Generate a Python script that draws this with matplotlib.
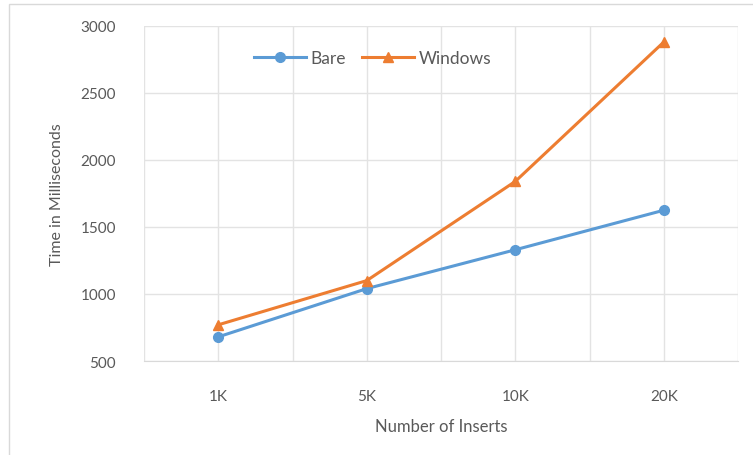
import numpy as np
import matplotlib.pyplot as plt
from matplotlib.patches import Rectangle

plt.rcParams['font.family'] = ['Lato', 'DejaVu Sans']

# data
categories = ['1K', '5K', '10K', '20K']
bare = [680, 1040, 1330, 1625]
windows = [770, 1100, 1840, 2880]

y_ticks = [500, 1000, 1500, 2000, 2500, 3000]

text_col = '#595959'
grid_col = '#E3E3E3'

fig = plt.figure(figsize=(7.53, 4.56), dpi=100)

# outer chart border (cropped on the right/bottom)
fig.patches.append(Rectangle((9 / 753, -0.1), 1.2, 1 - 5 / 456 + 0.1,
                             transform=fig.transFigure, fill=False,
                             edgecolor='#D9D9D9', linewidth=1.0))

ax = fig.add_axes([144 / 753, 1 - 362 / 456, (738 - 144) / 753, (362 - 27) / 456])

x = np.arange(len(categories))
ax.plot(x, bare, color='#5B9BD5', linewidth=2.2, marker='o', markersize=7,
        label='Bare', zorder=3)
ax.plot(x, windows, color='#ED7D31', linewidth=2.2, marker='^', markersize=7,
        label='Windows', zorder=3)

ax.set_xlim(-0.5, len(categories) - 0.5)
ax.set_ylim(500, 3000)
ax.set_yticks(y_ticks)
ax.set_xticks(x)
ax.set_xticklabels(categories)

# vertical gridlines at categories and between them
for gx in np.arange(-0.5, len(categories), 0.5):
    ax.axvline(gx, color=grid_col, linewidth=1, zorder=0)
for gy in y_ticks:
    ax.axhline(gy, color=grid_col, linewidth=1, zorder=0)

for s in ['top', 'right', 'left']:
    ax.spines[s].set_visible(False)
ax.spines['bottom'].set_color('#D9D9D9')

ax.tick_params(axis='both', length=0, labelsize=11, colors=text_col)
ax.tick_params(axis='x', pad=20)
ax.tick_params(axis='y', pad=20)

ax.set_xlabel('Number of Inserts', fontsize=12, color=text_col, labelpad=11)
ax.set_ylabel('Time in Milliseconds', fontsize=11.5, color=text_col, labelpad=12)

ax.legend(loc='upper center', bbox_to_anchor=(0.385, 0.975), ncol=2, frameon=False,
          fontsize=12.5, labelcolor=text_col, handlelength=3.0, handletextpad=0.25,
          columnspacing=0.9)

fig.savefig('out.png', dpi=100)
